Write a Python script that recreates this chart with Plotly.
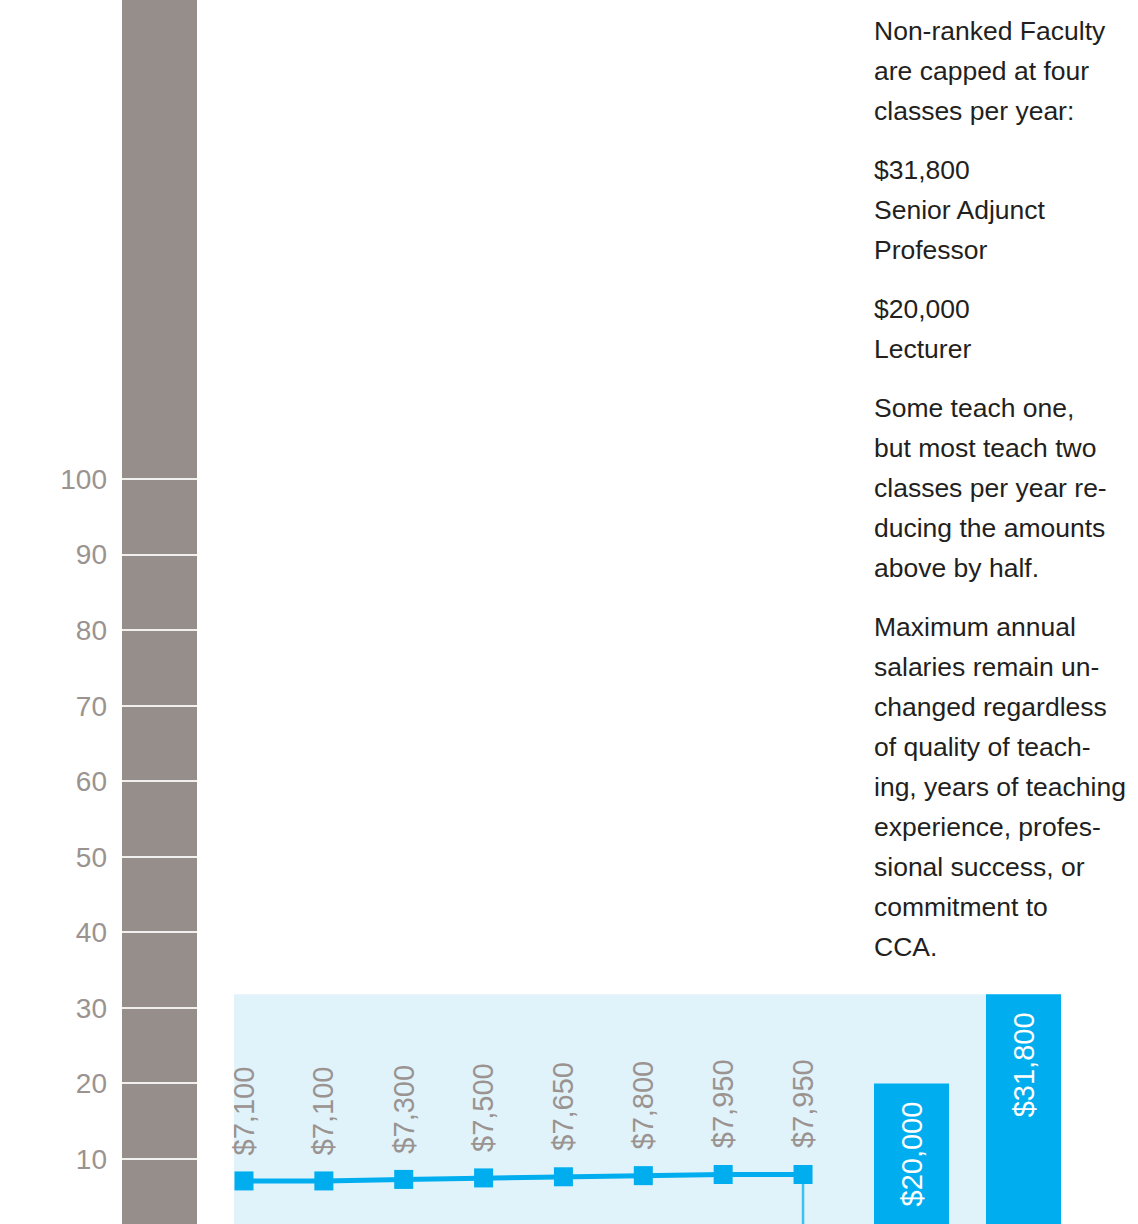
import plotly.graph_objects as go

# ---- data (thousands of dollars) ----
steps = ["Step 1", "Step 2", "Step 3", "Step 4", "Step 5", "Step 6", "Step 7", "Step 8"]
per_class_pay = [7.10, 7.10, 7.30, 7.50, 7.65, 7.80, 7.95, 7.95]
ranks = ["Lecturer", "Senior Adjunct Professor"]
max_annual = [20.0, 31.8]
tick_values = [10, 20, 30, 40, 50, 60, 70, 80, 90, 100]
tick_labels = ["10", "20", "30", "40", "50", "60", "70", "80", "90", "100"]
paragraphs = [
    ["Non-ranked Faculty", "are capped at four", "classes per year:"],
    ["$31,800", "Senior Adjunct", "Professor"],
    ["$20,000", "Lecturer"],
    ["Some teach one,", "but most teach two", "classes per year re-", "ducing the amounts", "above by half."],
    ["Maximum annual", "salaries remain un-", "changed regardless", "of quality of teach-",
     "ing, years of teaching", "experience, profes-", "sional success, or", "commitment to", "CCA."],
]

W, H = 1138, 1224
FONT = "Liberation Sans"
GRAY_TXT = "#9a9390"
BAR_GRAY = "#968e8a"
CYAN = "#00aeef"
LIGHT = "#e0f2fa"
DARK = "#231f20"

def money(v):
    return "${:,.0f}".format(v * 1000)

fig = go.Figure()

# invisible trace to make the gray-bar subplot exist
fig.add_trace(go.Scatter(x=[0.5], y=[tick_values[0]], xaxis="x3", yaxis="y",
                         mode="markers", marker=dict(opacity=0), hoverinfo="skip",
                         showlegend=False))

# drop line from last point
fig.add_trace(go.Scatter(x=[steps[-1], steps[-1]], y=[0, per_class_pay[-1]],
                         xaxis="x", yaxis="y2", mode="lines",
                         line=dict(color="#3cc2f2", width=2.5),
                         hoverinfo="skip", showlegend=False))

fig.add_trace(go.Scatter(x=steps, y=per_class_pay, xaxis="x", yaxis="y2",
                         mode="lines+markers",
                         line=dict(color=CYAN, width=5),
                         marker=dict(symbol="square", size=19, color=CYAN),
                         showlegend=False))

fig.add_trace(go.Bar(x=ranks, y=max_annual, xaxis="x2", yaxis="y2",
                     marker=dict(color=CYAN, line=dict(width=0)),
                     width=0.67, showlegend=False))

annotations = []
for s, v in zip(steps, per_class_pay):
    annotations.append(dict(x=s, y=v, xref="x", yref="y2", text=money(v),
                            textangle=-90, showarrow=False, xanchor="center",
                            yanchor="bottom", yshift=24,
                            font=dict(family=FONT, size=29, color=GRAY_TXT)))
for r, v in zip(ranks, max_annual):
    annotations.append(dict(x=r, y=v, xref="x2", yref="y2", text=money(v),
                            textangle=-90, showarrow=False, xanchor="center",
                            yanchor="top", yshift=-16,
                            font=dict(family=FONT, size=29, color="white")))

ypx = 31
for p, lines in enumerate(paragraphs):
    for line in lines:
        annotations.append(dict(x=874 / W, y=1 - ypx / H, xref="paper", yref="paper",
                                text=line, showarrow=False, xanchor="left",
                                yanchor="middle", xshift=-2,
                                font=dict(family=FONT, size=26.5, color=DARK)))
        ypx += 40
    ypx += 19

yr = [1.40, 163.4]

fig.update_layout(
    width=W, height=H, autosize=False,
    margin=dict(l=0, r=0, t=0, b=0),
    paper_bgcolor="white", plot_bgcolor="rgba(0,0,0,0)",
    showlegend=False,
    xaxis=dict(domain=[234 / W, 1061 / W], range=[-0.125, 10.23], visible=False,
               type="category", categoryorder="array", categoryarray=steps),
    xaxis2=dict(domain=[874 / W, 1061 / W], range=[-0.335, 1.335], visible=False,
                type="category", anchor="y2"),
    xaxis3=dict(domain=[122 / W, 197 / W], range=[0, 1], visible=False, anchor="y"),
    yaxis=dict(anchor="x3", range=yr, tickvals=tick_values, ticktext=tick_labels,
               showgrid=True, gridcolor="#f2f0ef", gridwidth=2, zeroline=False,
               showline=False, ticks="", ticklabelstandoff=14,
               tickfont=dict(family=FONT, size=28, color=GRAY_TXT)),
    yaxis2=dict(anchor="x", range=yr, visible=False, overlaying="y"),
    shapes=[
        dict(type="rect", xref="x3 domain", yref="paper", x0=0, x1=1, y0=0, y1=1,
             fillcolor=BAR_GRAY, line=dict(width=0), layer="below"),
        dict(type="rect", xref="x domain", yref="y2", x0=0, x1=1, y0=0, y1=max(max_annual),
             fillcolor=LIGHT, line=dict(width=0), layer="below"),
    ],
    annotations=annotations,
)

fig.write_html("out.html", config={"displayModeBar": False},
               post_script="document.body.style.margin='0';document.body.style.overflow='hidden';")
